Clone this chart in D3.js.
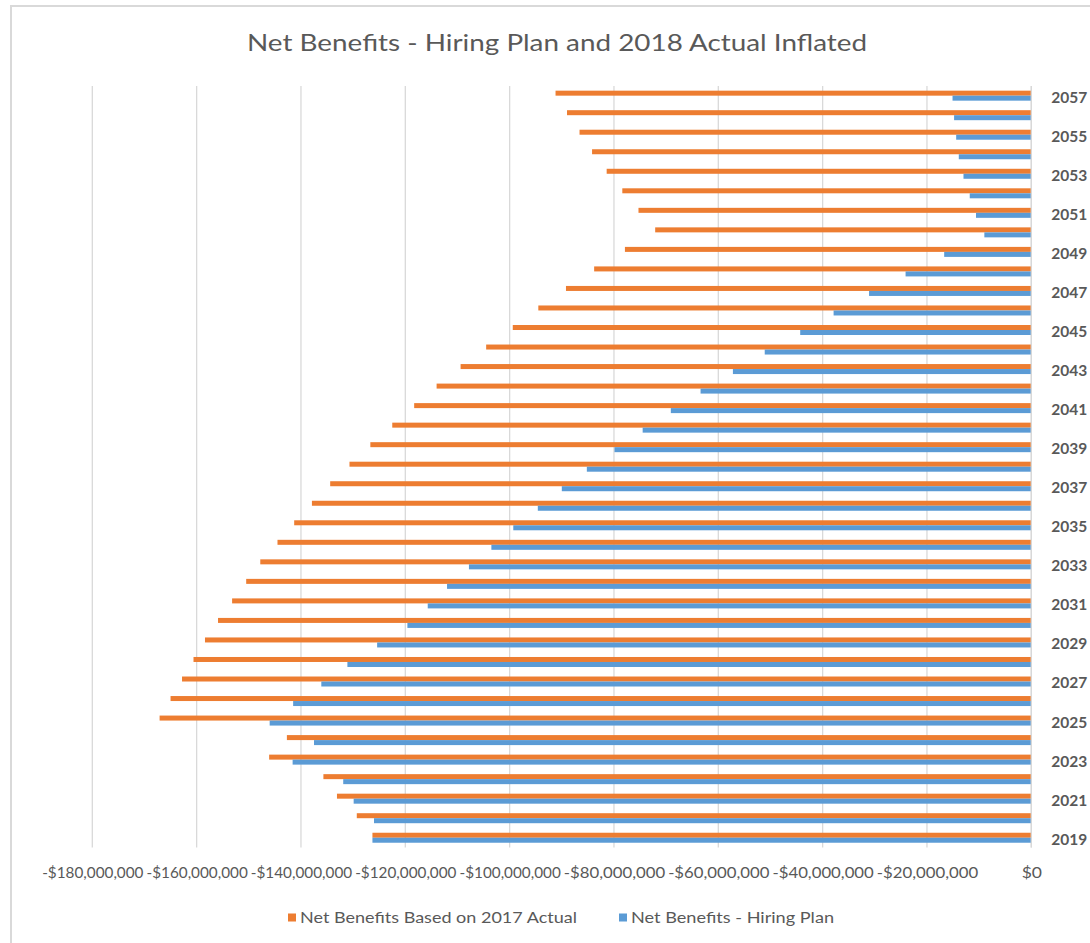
<!DOCTYPE html>
<html>
<head>
<meta charset="utf-8">
<script src="https://cdn.jsdelivr.net/npm/d3@7/dist/d3.min.js"></script>
<style>
  html, body { margin: 0; padding: 0; background: #ffffff; }
  svg { display: block; }
  text { font-family: Lato, "Open Sans", "Liberation Sans", sans-serif; fill: #595959; }
</style>
</head>
<body>
<svg id="chart" width="1090" height="943"></svg>
<script>
// Years on the category axis (top to bottom)
const years = [2057, 2056, 2055, 2054, 2053, 2052, 2051, 2050, 2049, 2048,
               2047, 2046, 2045, 2044, 2043, 2042, 2041, 2040, 2039, 2038,
               2037, 2036, 2035, 2034, 2033, 2032, 2031, 2030, 2029, 2028,
               2027, 2026, 2025, 2024, 2023, 2022, 2021, 2020, 2019];

// Year labels printed on the axis
const yearLabels = [2057, 2055, 2053, 2051, 2049, 2047, 2045, 2043, 2041, 2039,
                    2037, 2035, 2033, 2031, 2029, 2027, 2025, 2023, 2021, 2019];

// Net Benefits Based on 2017 Actual (dollars), same order as years
const actualValues = [
  -91200000, -89000000, -86600000, -84200000, -81400000, -78400000, -75300000, -72100000, -77900000, -83800000,
  -89200000, -94500000, -99400000, -104500000, -109400000, -114000000, -118300000, -122500000, -126700000, -130700000,
  -134400000, -137900000, -141300000, -144500000, -147800000, -150500000, -153200000, -155900000, -158400000, -160600000,
  -162800000, -165000000, -167100000, -142700000, -146100000, -135700000, -133100000, -129300000, -126300000
];

// Net Benefits - Hiring Plan (dollars), same order as years
const planValues = [
  -15100000, -14800000, -14400000, -13900000, -13000000, -11800000, -10600000, -9000000, -16700000, -24100000,
  -31100000, -37900000, -44300000, -51100000, -57200000, -63400000, -69100000, -74500000, -79900000, -85200000,
  -90000000, -94600000, -99300000, -103500000, -107800000, -112000000, -115700000, -119600000, -125400000, -131100000,
  -136100000, -141500000, -146000000, -137500000, -141600000, -131900000, -129900000, -126000000, -126300000
];

// Value axis ticks
const xTicks = [-180000000, -160000000, -140000000, -120000000, -100000000,
                -80000000, -60000000, -40000000, -20000000, 0];

const seriesNames = ["Net Benefits Based on 2017 Actual", "Net Benefits - Hiring Plan"];
const seriesColors = ["#ED7D31", "#5B9BD5"];

const svg = d3.select("#chart");

// Chart frame
svg.append("rect")
  .attr("x", 11).attr("y", 6)
  .attr("width", 1200).attr("height", 1100)
  .attr("fill", "none")
  .attr("stroke", "#d9d9d9")
  .attr("stroke-width", 2);

// Title
svg.append("text")
  .attr("x", 557).attr("y", 51)
  .attr("text-anchor", "middle")
  .attr("font-size", 23.5)
  .attr("textLength", 620)
  .attr("lengthAdjust", "spacingAndGlyphs")
  .text("Net Benefits - Hiring Plan and 2018 Actual Inflated");

const plot = { left: 92.3, right: 1031.3, top: 85.9, bottom: 847.5 };

const x = d3.scaleLinear()
  .domain([-180000000, 0])
  .range([plot.left, plot.right]);

const y = d3.scaleBand()
  .domain(years)
  .range([plot.top, plot.bottom])
  .paddingInner(0.488)
  .paddingOuter(0.244);

const ySub = d3.scaleBand()
  .domain([0, 1])
  .range([0, y.bandwidth()]);

// Vertical gridlines
svg.append("g")
  .selectAll("line")
  .data(xTicks)
  .join("line")
  .attr("x1", d => x(d)).attr("x2", d => x(d))
  .attr("y1", plot.top).attr("y2", plot.bottom)
  .attr("stroke", "#d9d9d9")
  .attr("stroke-width", 1.3);

// Bars
const rows = years.map((yr, i) => ({ year: yr, values: [actualValues[i], planValues[i]] }));

const groups = svg.append("g")
  .selectAll("g")
  .data(rows)
  .join("g")
  .attr("transform", d => `translate(0,${y(d.year)})`);

groups.selectAll("rect")
  .data(d => d.values.map((v, k) => ({ v, k })))
  .join("rect")
  .attr("x", d => x(Math.min(0, d.v)))
  .attr("width", d => Math.abs(x(d.v) - x(0)))
  .attr("y", d => ySub(d.k))
  .attr("height", ySub.bandwidth())
  .attr("fill", d => seriesColors[d.k]);

// Value axis labels
const fmtNum = d3.format(",");
const fmtMoney = v => (v < 0 ? "-$" : "$") + fmtNum(Math.abs(v));

const xAxis = svg.append("g")
  .attr("transform", `translate(0,${plot.bottom})`)
  .call(d3.axisBottom(x).tickValues(xTicks).tickFormat(fmtMoney).tickSize(0));
xAxis.select(".domain").remove();
const tickGap = x(xTicks[1]) - x(xTicks[0]);
xAxis.selectAll("text")
  .attr("y", 30).attr("dy", 0)
  .attr("font-size", 15)
  .attr("font-family", "Lato, 'Open Sans', sans-serif")
  .attr("fill", "#595959")
  .each(function () {
    // widen the labels, but keep neighbours from running into each other
    const natural = this.getComputedTextLength();
    const target = Math.min(natural * 1.17, tickGap - 3);
    d3.select(this)
      .attr("textLength", target)
      .attr("lengthAdjust", "spacingAndGlyphs");
  });

// Category axis on the right
const yAxis = svg.append("g")
  .attr("transform", `translate(${plot.right},0)`)
  .call(d3.axisRight(y).tickValues(yearLabels).tickSize(0).tickPadding(20));
yAxis.select(".domain")
  .attr("stroke", "#d9d9d9")
  .attr("stroke-width", 1.3)
  .attr("d", `M0,${plot.top}V${plot.bottom}`);
yAxis.selectAll("text")
  .attr("dy", "0.45em")
  .attr("font-size", 15.5)
  .attr("font-weight", "bold")
  .attr("font-family", "Lato, 'Open Sans', sans-serif")
  .attr("fill", "#595959");

// Legend
const legendItems = [
  { name: seriesNames[0], color: seriesColors[0], x: 288, width: 277 },
  { name: seriesNames[1], color: seriesColors[1], x: 619, width: 203 }
];
const legend = svg.append("g")
  .selectAll("g")
  .data(legendItems)
  .join("g")
  .attr("transform", d => `translate(${d.x},913.5)`);
legend.append("rect")
  .attr("width", 8).attr("height", 8)
  .attr("fill", d => d.color);
legend.append("text")
  .attr("x", 12).attr("y", 9)
  .attr("font-size", 15)
  .attr("textLength", d => d.width)
  .attr("lengthAdjust", "spacingAndGlyphs")
  .text(d => d.name);
</script>
</body>
</html>
